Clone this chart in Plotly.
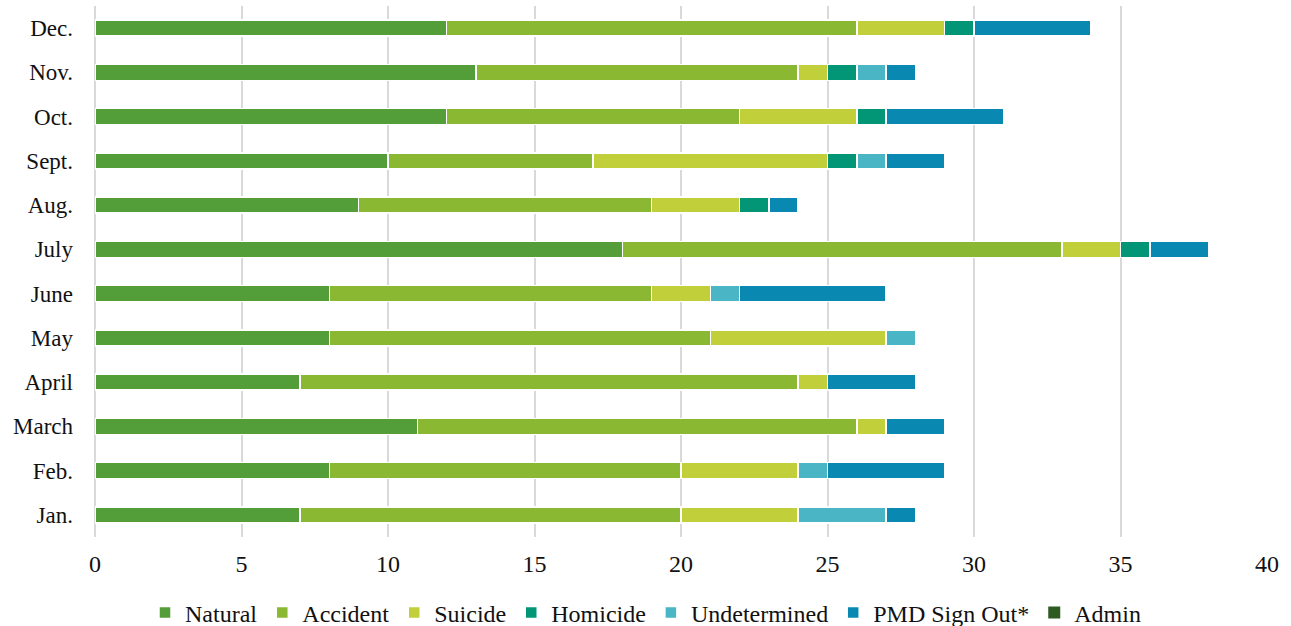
import plotly.graph_objects as go

months = ["Jan.", "Feb.", "March", "April", "May", "June", "July",
          "Aug.", "Sept.", "Oct.", "Nov.", "Dec."]

natural      = [7, 8, 11, 7, 8, 8, 18, 9, 10, 12, 13, 12]
accident     = [13, 12, 15, 17, 13, 11, 15, 10, 7, 10, 11, 14]
suicide      = [4, 4, 1, 1, 6, 2, 2, 3, 8, 4, 1, 3]
homicide     = [0, 0, 0, 0, 0, 0, 1, 1, 1, 1, 1, 1]
undetermined = [3, 1, 0, 0, 1, 1, 0, 0, 1, 0, 1, 0]
pmd_signout  = [1, 4, 2, 3, 0, 5, 2, 1, 2, 4, 1, 4]
admin        = [0, 0, 0, 0, 0, 0, 0, 0, 0, 0, 0, 0]

series = [
    ("Natural", natural, "#549E39"),
    ("Accident", accident, "#8AB833"),
    ("Suicide", suicide, "#C0CF3A"),
    ("Homicide", homicide, "#029676"),
    ("Undetermined", undetermined, "#4AB5C4"),
    ("PMD Sign Out*", pmd_signout, "#0989B1"),
    ("Admin", admin, "#2E5B22"),
]

FONT = "Liberation Serif"

fig = go.Figure()
for name, vals, color in series:
    fig.add_trace(go.Bar(
        y=months, x=vals, name=name, orientation="h",
        marker=dict(color=color,
                    line=dict(color="white", width=1.5 if any(vals) else 0)),
        hoverinfo="x+y+name",
    ))

fig.update_layout(
    barmode="stack",
    bargap=0.64,
    width=1291, height=626,
    margin=dict(l=95, r=24, t=6, b=89, autoexpand=False),
    plot_bgcolor="white", paper_bgcolor="white",
    font=dict(family=FONT, size=22, color="#111111"),
    showlegend=True,
    legend=dict(orientation="h", traceorder="normal",
                x=0.5, xanchor="center", xref="container",
                y=-0.143, yanchor="middle", yref="paper",
                font=dict(family=FONT, size=24, color="#111111"),
                itemwidth=30, tracegroupgap=0),
    xaxis=dict(range=[0, 40], dtick=5, tick0=0,
               showgrid=True, gridcolor="#D9D9D9", gridwidth=1.5,
               zeroline=True, zerolinecolor="#D9D9D9", zerolinewidth=1.5,
               showline=False, ticks="", ticklabelstandoff=10,
               tickfont=dict(family=FONT, size=24)),
    yaxis=dict(categoryorder="array", categoryarray=months,
               showgrid=False, zeroline=False, showline=False,
               ticks="", ticklabelstandoff=21,
               tickfont=dict(family=FONT, size=23)),
)

fig.write_html("out.html")
